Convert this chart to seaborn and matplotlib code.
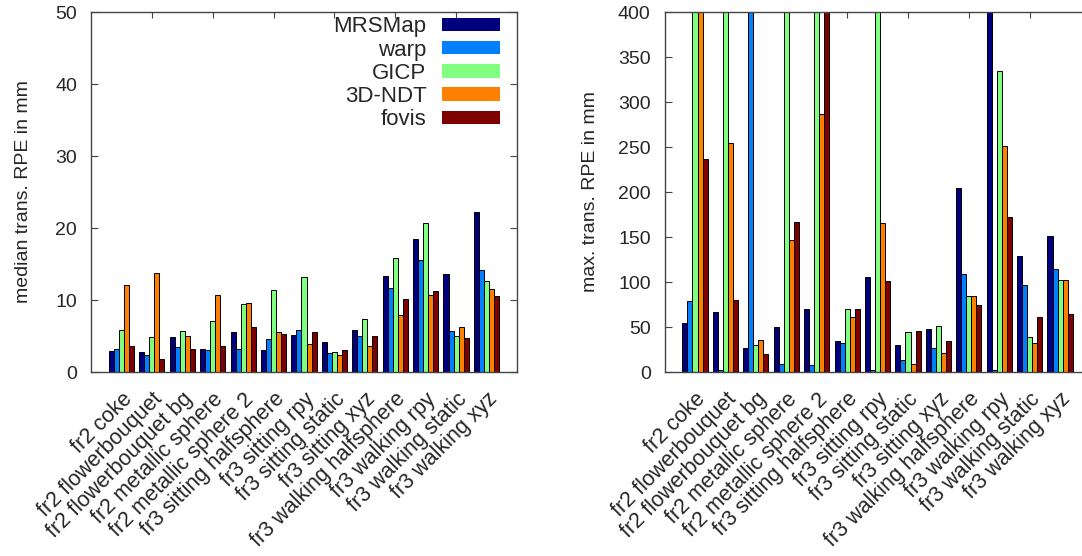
import matplotlib
matplotlib.use("Agg")
import matplotlib.pyplot as plt
from matplotlib.patches import Patch
import seaborn as sns
import pandas as pd

sequences = [
    "fr2 coke", "fr2 flowerbouquet", "fr2 flowerbouquet bg", "fr2 metallic sphere",
    "fr2 metallic sphere 2", "fr3 sitting halfsphere", "fr3 sitting rpy",
    "fr3 sitting static", "fr3 sitting xyz", "fr3 walking halfsphere",
    "fr3 walking rpy", "fr3 walking static", "fr3 walking xyz",
]
methods = ["MRSMap", "warp", "GICP", "3D-NDT", "fovis"]
colors = ["#00007f", "#0080ff", "#80ff80", "#ff8000", "#7f0000"]

# median translational RPE (mm)
median_mrsmap = [2.9, 2.8, 4.8, 3.25, 5.5, 3.0, 5.2, 4.2, 5.8, 13.4, 18.5, 13.6, 22.2]
median_warp = [3.2, 2.3, 3.5, 3.0, 3.2, 4.6, 5.9, 2.7, 5.05, 11.6, 15.6, 5.7, 14.1]
median_gicp = [5.9, 4.8, 5.75, 7.1, 9.4, 11.4, 13.2, 2.8, 7.4, 15.8, 20.7, 5.0, 12.6]
median_ndt = [12.05, 13.8, 5.0, 10.7, 9.6, 5.5, 3.9, 2.4, 3.6, 7.9, 10.75, 6.2, 11.5]
median_fovis = [3.6, 1.8, 3.2, 3.6, 6.2, 5.3, 5.5, 3.0, 5.0, 10.2, 11.3, 4.7, 10.5]

# max translational RPE (mm); values above 400 run off the top of the plot
max_mrsmap = [54.5, 66.4, 27.0, 50.0, 69.8, 34.0, 105.8, 29.7, 48.2, 204.0, 450.0, 129.0, 150.6]
max_warp = [78.7, 2.0, 450.0, 8.5, 8.2, 32.7, 2.0, 13.7, 26.7, 109.0, 2.6, 97.2, 115.0]
max_gicp = [450.0, 450.0, 30.4, 450.0, 450.0, 69.8, 450.0, 44.5, 51.2, 85.0, 335.0, 39.3, 102.0]
max_ndt = [450.0, 254.0, 35.6, 146.6, 286.5, 60.9, 165.9, 8.9, 21.5, 85.0, 251.6, 32.3, 102.0]
max_fovis = [236.7, 79.8, 20.0, 167.0, 450.0, 69.8, 101.0, 46.0, 34.9, 75.0, 172.5, 61.2, 64.6]


def to_long(series):
    rows = []
    for name, vals in zip(methods, series):
        for seq, v in zip(sequences, vals):
            rows.append({"sequence": seq, "method": name, "value": v})
    return pd.DataFrame(rows)


median_df = to_long([median_mrsmap, median_warp, median_gicp, median_ndt, median_fovis])
max_df = to_long([max_mrsmap, max_warp, max_gicp, max_ndt, max_fovis])

sns.set_theme(style="white")
plt.rcParams["font.family"] = ["Liberation Sans", "DejaVu Sans"]
FS = 14
XFS = 15.5

fig = plt.figure(figsize=(10.82, 5.56), dpi=100)
ax1 = fig.add_axes([0.0841, 0.3309, 0.3937, 0.6475])
ax2 = fig.add_axes([0.6142, 0.3309, 0.3937, 0.6475])


def draw(ax, df, ymax, ystep, ylabel, label_x):
    sns.barplot(data=df, x="sequence", y="value", hue="method", order=sequences,
                hue_order=methods, palette=colors, width=0.83, gap=0,
                edgecolor="black", linewidth=0.7, saturation=1, ax=ax, legend=False)
    ax.set_xlim(-1, len(sequences))
    ax.set_ylim(0, ymax)
    ax.set_yticks(range(0, ymax + 1, ystep))
    ax.set_xlabel("")
    ax.set_ylabel(ylabel, fontsize=FS)
    ax.yaxis.set_label_coords(label_x, 0.5)
    ax.tick_params(axis="y", direction="in", length=5, width=0.8, left=True, right=True,
                   labelsize=FS, pad=10, color="#444444")
    ax.tick_params(axis="x", bottom=False, top=False, labelsize=XFS, pad=6)
    ax.set_xticks(range(len(sequences)))
    ax.set_xticklabels(sequences, rotation=45, ha="right", va="top", rotation_mode="anchor")
    sec = ax.secondary_xaxis("top")
    sec.set_xticks(range(1, len(sequences), 2))
    sec.set_xticklabels([])
    sec.tick_params(direction="in", length=4, width=0.8, color="#444444")
    sec.spines["top"].set_visible(False)
    for s in ax.spines.values():
        s.set_color("#444444")
        s.set_linewidth(1.0)


draw(ax1, median_df, 50, 10, "median trans. RPE in mm", -0.138)
draw(ax2, max_df, 400, 50, "max. trans. RPE in mm", -0.154)

handles = [Patch(facecolor=c, edgecolor="none") for c in colors]
ax1.legend(handles, methods, loc="upper right", bbox_to_anchor=(0.960, 0.988),
           frameon=False, markerfirst=False,
           fontsize=16, handlelength=2.6, handleheight=0.55, handletextpad=0.7,
           labelspacing=0.1, borderaxespad=0, borderpad=0)

fig.savefig("out.png", dpi=100)
